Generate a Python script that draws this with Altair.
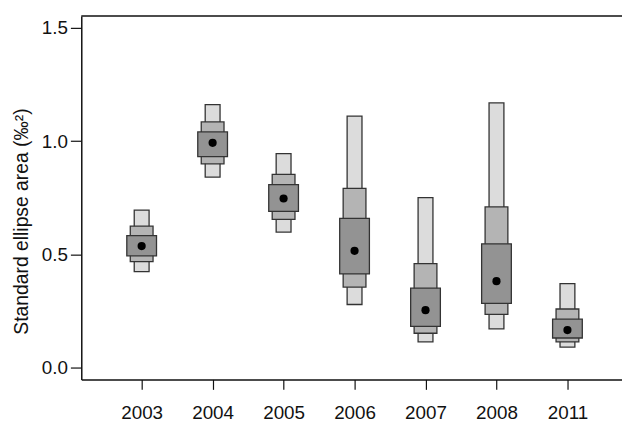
import altair as alt
import pandas as pd

years = ["2003", "2004", "2005", "2006", "2007", "2008", "2011"]
mode = [0.537, 0.993, 0.747, 0.516, 0.254, 0.382, 0.166]
ci95_lo = [0.424, 0.841, 0.599, 0.279, 0.114, 0.171, 0.091]
ci95_hi = [0.696, 1.162, 0.945, 1.111, 0.751, 1.169, 0.371]
ci75_lo = [0.468, 0.900, 0.655, 0.356, 0.152, 0.235, 0.114]
ci75_hi = [0.625, 1.085, 0.854, 0.792, 0.459, 0.710, 0.259]
ci50_lo = [0.494, 0.932, 0.690, 0.414, 0.182, 0.284, 0.131]
ci50_hi = [0.583, 1.041, 0.808, 0.659, 0.351, 0.547, 0.214]

df = pd.DataFrame({
    "idx": list(range(len(years))),
    "year": years,
    "mode": mode,
    "lo95": ci95_lo, "hi95": ci95_hi,
    "lo75": ci75_lo, "hi75": ci75_hi,
    "lo50": ci50_lo, "hi50": ci50_hi,
})

W, H = 546, 367
ydom = [-0.052, 1.553]
xdom = [-0.781, 6.699]
font = "Liberation Sans"

label_expr = "[" + ",".join('"%s"' % y for y in years) + "][datum.value]"

xenc = alt.X("idx:Q", scale=alt.Scale(domain=xdom, nice=False, zero=False),
             axis=alt.Axis(values=list(range(len(years))), labelExpr=label_expr,
                           title=None, grid=False, tickSize=10, tickColor="#111",
                           tickWidth=1.2, domainColor="#111", domainWidth=1.5,
                           labelFont=font, labelFontSize=19, labelColor="#111",
                           labelPadding=14))
yscale = alt.Scale(domain=ydom, nice=False, zero=False)
yaxis = alt.Axis(values=[0, 0.5, 1.0, 1.5], format=".1f", grid=False,
                 title="Standard ellipse area (‰²)", titleFont=font,
                 titleFontSize=19.5, titleFontWeight="normal", titleColor="#111",
                 titleX=-60, titleY=207, titleAngle=270, titleAlign="center",
                 titleBaseline="middle",
                 tickSize=11, tickColor="#111", tickWidth=1.2,
                 domainColor="#111", domainWidth=1.5,
                 labelFont=font, labelFontSize=19, labelColor="#111",
                 labelPadding=3)

base = alt.Chart(df)
stroke = dict(stroke="#333333", strokeWidth=1.3)
b95 = base.mark_bar(size=15, color="#dcdcdc", **stroke).encode(
    x=xenc, y=alt.Y("lo95:Q", scale=yscale, axis=yaxis), y2="hi95:Q")
b75 = base.mark_bar(size=23, color="#b4b4b4", **stroke).encode(
    x="idx:Q", y="lo75:Q", y2="hi75:Q")
b50 = base.mark_bar(size=30, color="#939393", **stroke).encode(
    x="idx:Q", y="lo50:Q", y2="hi50:Q")
dots = base.mark_circle(size=68, color="black", opacity=1).encode(
    x="idx:Q", y="mode:Q")
top = alt.Chart(pd.DataFrame({"a": [0]})).mark_rule(color="#111", strokeWidth=1.5).encode(
    x=alt.value(0), x2=alt.value(W), y=alt.value(0))

chart = alt.layer(b95, b75, b50, dots, top).properties(
    width=W, height=H,
    autosize=alt.AutoSizeParams(type="none"),
    padding={"left": 74, "top": 6, "right": 0, "bottom": 50},
    background="white",
).configure_view(stroke=None)

chart.save("out.html", embed_options={"renderer": "svg", "actions": False})
